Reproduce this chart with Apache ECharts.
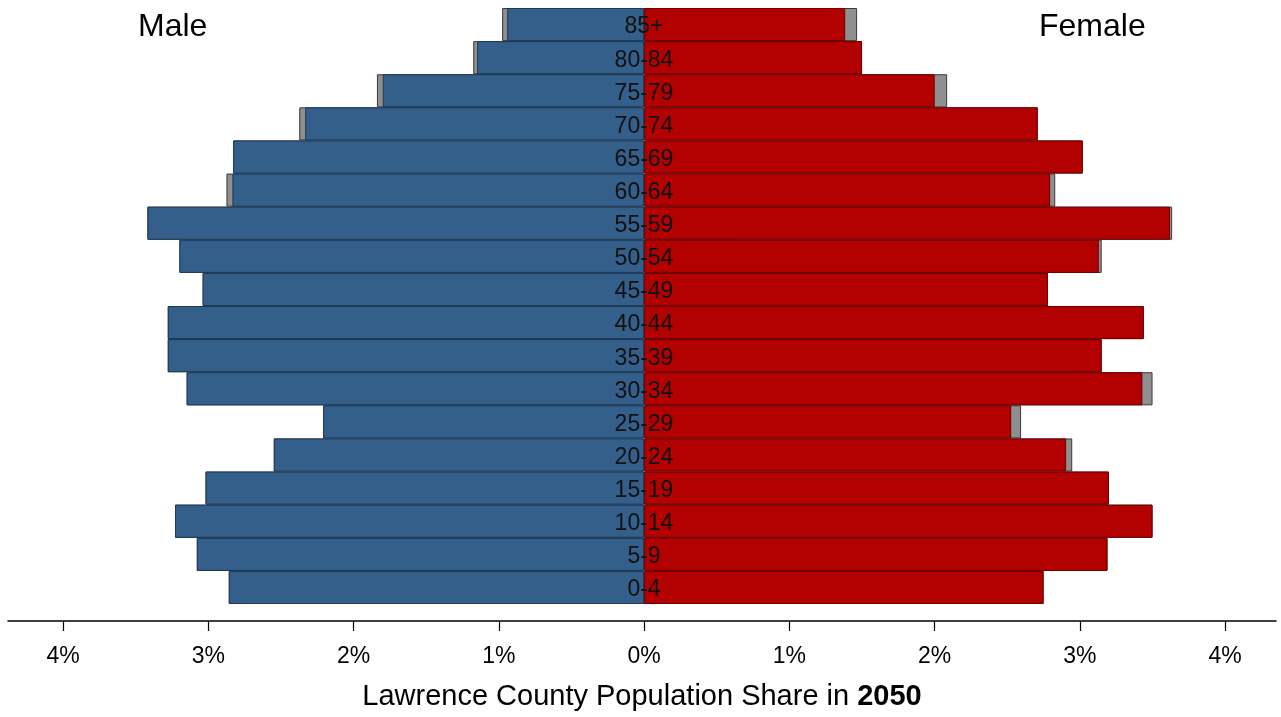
<!DOCTYPE html>
<html>
<head>
<meta charset="utf-8">
<script src="https://cdn.jsdelivr.net/npm/echarts@6/dist/echarts.min.js"></script>
<style>html,body{margin:0;padding:0;background:#fff;}#c{width:1281px;height:717px;}</style>
</head>
<body>
<div id="c"></div>
<script>
const ageGroups = ['0-4','5-9','10-14','15-19','20-24','25-29','30-34','35-39','40-44','45-49','50-54','55-59','60-64','65-69','70-74','75-79','80-84','85+'];
const maleShare = [2.86, 3.08, 3.23, 3.02, 2.55, 2.21, 3.15, 3.28, 3.28, 3.04, 3.20, 3.42, 2.835, 2.83, 2.334, 1.80, 1.15, 0.943];
const maleCompare = [2.86, 3.08, 3.23, 3.02, 2.55, 2.21, 3.15, 3.28, 3.28, 3.04, 3.20, 3.42, 2.876, 2.83, 2.375, 1.84, 1.177, 0.978];
const femaleShare = [2.75, 3.19, 3.50, 3.20, 2.905, 2.527, 3.43, 3.15, 3.44, 2.78, 3.13, 3.62, 2.795, 3.02, 2.71, 2.00, 1.50, 1.384];
const femaleCompare = [2.75, 3.19, 3.50, 3.20, 2.947, 2.595, 3.50, 3.15, 3.44, 2.78, 3.15, 3.635, 2.83, 3.02, 2.71, 2.086, 1.50, 1.466];
const tickValues = [-4, -3, -2, -1, 0, 1, 2, 3, 4];
const axisTitle = 'Lawrence County Population Share in ';
const yearLabel = '2050';

const FONT = '"Liberation Sans", Arial, sans-serif';
const chart = echarts.init(document.getElementById('c'));
const neg = a => a.map(v => -v);
const greyStyle = {color: '#8f8f8f', borderColor: '#3a3a3a', borderWidth: 1};
chart.setOption({
  animation: false,
  grid: {left: 8, right: 5, top: 8, bottom: 113, containLabel: false},
  xAxis: {
    type: 'value', min: -4.38, max: 4.35, offset: 17,
    splitLine: {show: false},
    axisLine: {show: true, lineStyle: {color: '#000', width: 1.5}},
    axisTick: {show: true, length: 10, lineStyle: {color: '#000', width: 1.2}, customValues: tickValues},
    axisLabel: {customValues: tickValues, formatter: v => Math.abs(v) + '%', fontFamily: FONT, fontSize: 23, color: '#000', margin: 24},
    name: axisTitle + '{b|' + yearLabel + '}',
    nameLocation: 'middle', nameGap: 61,
    nameTextStyle: {fontFamily: FONT, fontSize: 29, color: '#000', rich: {b: {fontFamily: FONT, fontSize: 29, fontWeight: 'bold', color: '#000'}}}
  },
  yAxis: {
    type: 'category', data: ageGroups, offset: -636, z: 10,
    axisLine: {show: false}, axisTick: {show: false},
    axisLabel: {
      align: 'center', margin: 0, formatter: v => '{a|' + v + '}',
      rich: {a: {fontFamily: FONT, fontSize: 23, color: '#111', padding: [5, 0, 0, 0]}}
    }
  },
  series: [
    {type: 'bar', data: neg(maleCompare), barWidth: '100%', barGap: '-100%', itemStyle: greyStyle, z: 1, silent: true},
    {type: 'bar', data: femaleCompare, barWidth: '100%', barGap: '-100%', itemStyle: greyStyle, z: 1, silent: true},
    {type: 'bar', data: neg(maleShare), barWidth: '100%', barGap: '-100%', itemStyle: {color: '#335f8a', borderColor: '#1d3a57', borderWidth: 1}, z: 2},
    {type: 'bar', data: femaleShare, barWidth: '100%', barGap: '-100%', itemStyle: {color: '#b30000', borderColor: '#6e0000', borderWidth: 1}, z: 2}
  ],
  graphic: [
    {type: 'text', left: 138, top: 11, style: {text: 'Male', fontFamily: FONT, fontSize: 32, fill: '#000'}},
    {type: 'text', left: 1039, top: 11, style: {text: 'Female', fontFamily: FONT, fontSize: 32, fill: '#000'}}
  ]
});
</script>
</body>
</html>
